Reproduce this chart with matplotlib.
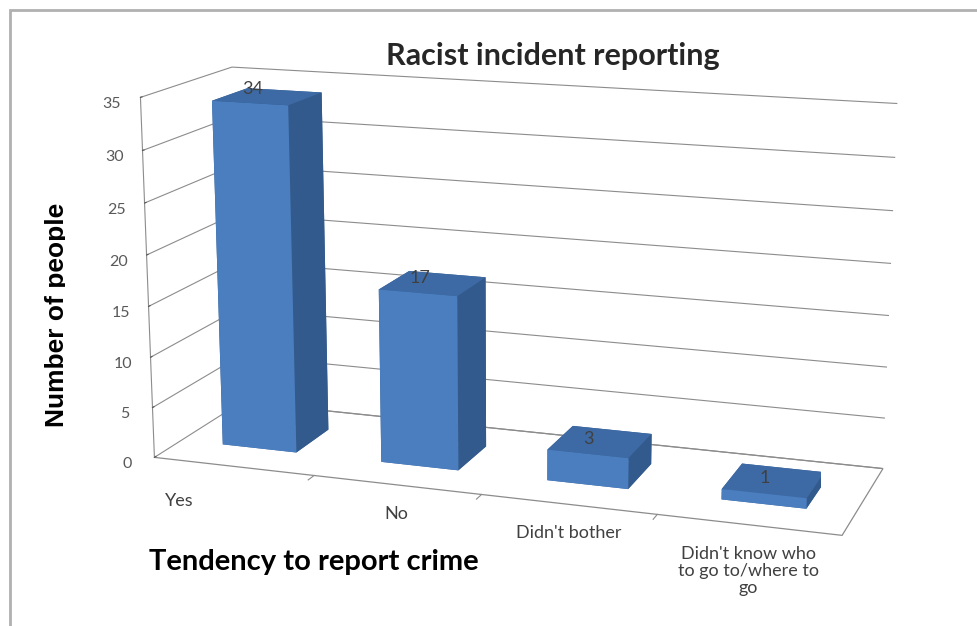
import numpy as np
import matplotlib
matplotlib.use("Agg")
import matplotlib.pyplot as plt
from matplotlib.patches import Rectangle
from matplotlib.transforms import Bbox, TransformedBbox
from mpl_toolkits.mplot3d import proj3d

categories = ["Yes", "No", "Didn't bother", "Didn't know who\nto go to/where to\ngo"]
counts = [34, 17, 3, 1]
z_ticks = [0, 5, 10, 15, 20, 25, 30, 35]

title = "Racist incident reporting"
x_title = "Tendency to report crime"
y_title = "Number of people"

# face colours for each box: bottom, top, front, back, left, right
face_front = "#4a7ebf"
face_top = "#3d6aa5"
face_side = "#335a8c"
grid_col = "#8c8c8c"
text_col = "#595959"

fig = plt.figure(figsize=(9.78, 6.26), dpi=100)
ax = fig.add_axes([0.019, 0.031, 1.0, 1.0], projection="3d")
ax.set_facecolor("none")

xs = np.arange(len(categories))
bar_w = 0.47
bar_d = 0.4
colors = []
for _ in counts:
    colors += [face_top, face_top, face_front, face_side, face_side, face_side]
ax.bar3d(xs - bar_w / 2, np.full(len(xs), 0.5 - bar_d / 2), np.zeros(len(xs)),
         bar_w, bar_d, counts, color=colors, shade=False, edgecolor="none")

ax.set_xlim(-0.5, len(categories) - 0.5)
ax.set_ylim(0, 1)
ax.set_zlim(0, 35)
ax.set_box_aspect((4.3, 1.25, 2.25), zoom=1.29)
ax.view_init(elev=14, azim=-71)
ax.set_proj_type("persp", focal_length=0.7)

# walls and floor: white panes, only the floor keeps an outline
for axis in (ax.xaxis, ax.yaxis, ax.zaxis):
    axis.set_pane_color((1, 1, 1, 1))
    axis.pane.set_edgecolor("white")
    axis.label.set_visible(False)
    axis.offsetText.set_visible(False)
ax.zaxis.pane.set_edgecolor(grid_col)
ax.zaxis.pane.set_linewidth(0.9)

ax.grid(True)
ax.zaxis._axinfo["grid"].update(color=grid_col, linewidth=0.8)
ax.xaxis._axinfo["grid"].update(color=(1, 1, 1, 0))
ax.yaxis._axinfo["grid"].update(color=(1, 1, 1, 0))
ax.xaxis.line.set_color((1, 1, 1, 0))
ax.yaxis.line.set_color((1, 1, 1, 0))
ax.zaxis.line.set_color(grid_col)

ax.set_xticks([])
ax.set_yticks([])
ax.set_zticks(z_ticks)
ax.zaxis.set_ticks_position("lower")
ax.zaxis._axinfo["tick"]["inward_factor"] = 0.0
ax.zaxis._axinfo["tick"]["outward_factor"] = 0.2
ax.tick_params(axis="z", labelsize=11.5, colors=text_col, pad=1)
for lbl in ax.get_zticklabels():
    lbl.set_family("Lato")

# category tick marks between bars
for b in xs[:-1] + 0.5:
    ax.plot([b, b], [0, -0.07], [0, 0], color=grid_col, lw=0.8)

# project 3D anchor points to figure pixels for the flat labels
fig.canvas.draw()
M = ax.get_proj()


def to_pixels(x, y, z):
    px, py, _ = proj3d.proj_transform(x, y, z, M)
    return ax.transData.transform((px, py))


# category labels under the front edge
nudge = [(-54, -6), (0, 0), (0, 0), (0, 0)]
for i, lab in enumerate(categories):
    ax.annotate(lab, xy=to_pixels(i, 0, 0), xycoords="figure pixels",
                xytext=(nudge[i][0], -21 + nudge[i][1]),
                textcoords="offset pixels", ha="center", va="top",
                fontsize=13, color="#404040", family="Lato", linespacing=1.1)

# value labels on top of the bars
for i, v in enumerate(counts):
    ax.annotate(str(v), xy=to_pixels(i, 0.35, v), xycoords="figure pixels",
                xytext=(-2, 4), textcoords="offset pixels", ha="center",
                va="bottom", fontsize=13, color="#404040", family="Lato")

fig.text(553 / 978, 1 - 56 / 626, title, ha="center", va="center",
         fontsize=22, weight="bold", color="#262626", family="Lato")
fig.text(314 / 978, 1 - 562 / 626, x_title, ha="center", va="center",
         fontsize=21, weight="bold", color="black", family="Lato")
yl = fig.text(64 / 978, 1 - 315 / 626, y_title, ha="center", va="baseline",
              rotation=90, rotation_mode="anchor", fontsize=19, weight="bold",
              color="black", family="Liberation Sans")
yl.set_clip_box(TransformedBbox(Bbox([[0, 0], [65 / 978, 1]]), fig.transFigure))
yl.set_clip_on(True)

# chart border
fig.patches.append(Rectangle((10 / 978, -0.2), 1.2, 1.2 - 10 / 626,
                             transform=fig.transFigure, fill=False,
                             ec="#b0b0b0", lw=2))

fig.savefig("out.png", dpi=100)
